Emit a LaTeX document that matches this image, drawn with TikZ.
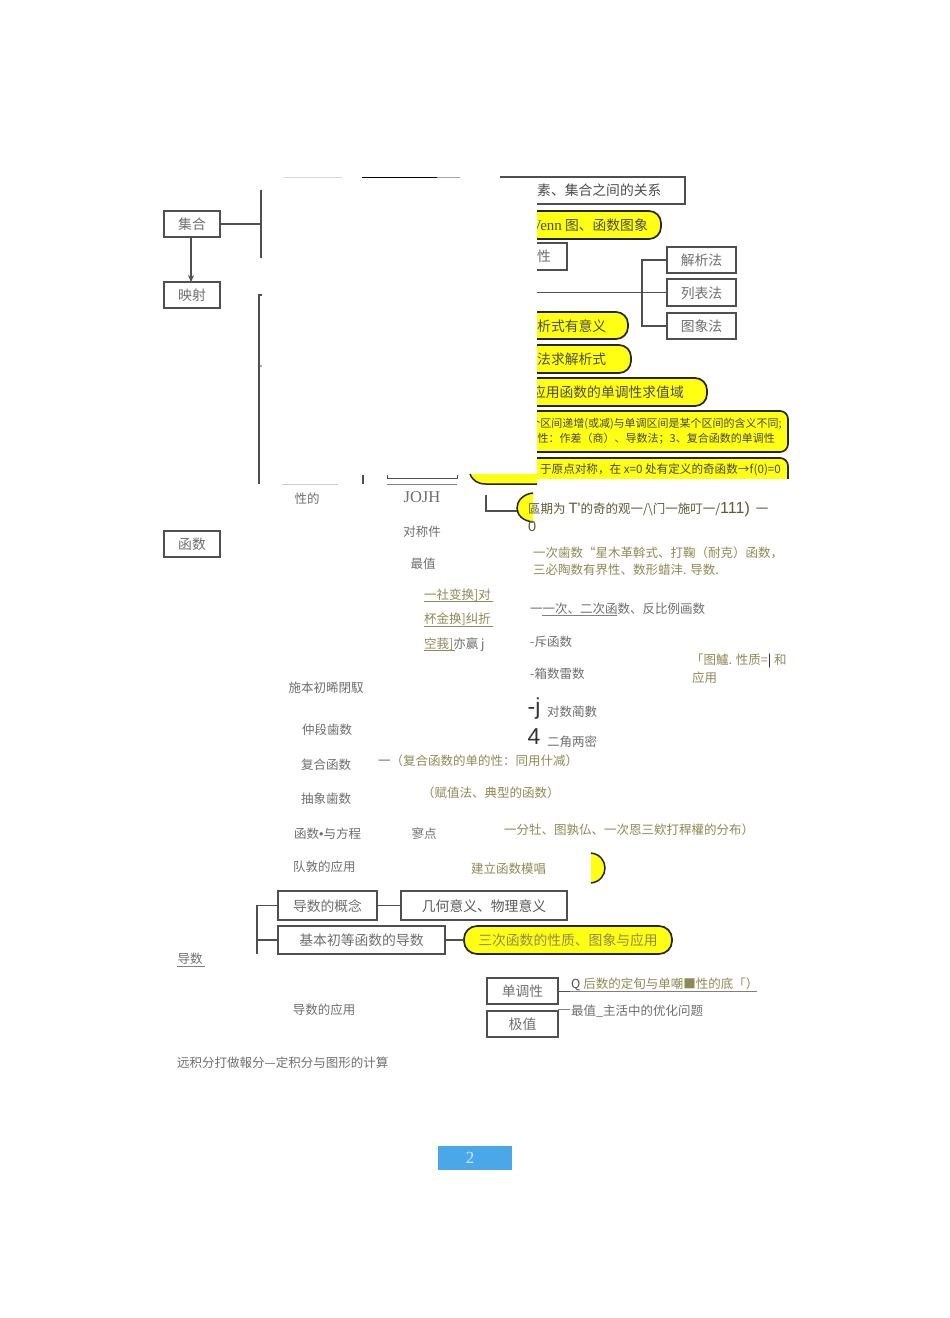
\documentclass[tikz,border=0pt]{standalone}
\usepackage{fontspec}
\setmainfont{Noto Sans CJK SC}
\newfontfamily\latinser{Liberation Serif}
\newfontfamily\latinsan{Liberation Sans}
\usetikzlibrary{arrows.meta}
\definecolor{ink}{HTML}{4F4F4F}
\definecolor{graytext}{HTML}{6E6E6E}
\definecolor{goldtext}{HTML}{8F8A55}
\definecolor{pillyellow}{HTML}{FFFF14}
\definecolor{pageblue}{HTML}{4AA8E8}
\tikzset{
  x=1pt,y=-1pt,
  boxnode/.style={draw=ink,line width=1.6pt,fill=white,inner sep=0pt,outer sep=0pt},
  boxtext/.style={text=graytext,inner sep=0pt,yshift=-.6pt,font=\fontsize{13.8}{13.8}\selectfont},
  pillnode/.style={draw=black!85,line width=1.7pt,fill=pillyellow,inner sep=0pt,outer sep=0pt,rounded corners=12pt},
  wire/.style={draw=ink,line width=1.4pt},
  lab/.style={inner sep=0pt,yshift=-.7pt,text=graytext,font=\fontsize{12.5}{12.5}\selectfont},
  goldlab/.style={inner sep=0pt,yshift=-.7pt,text=goldtext,font=\fontsize{12.5}{12.5}\selectfont},
  pilltext/.style={inner sep=0pt,yshift=-.6pt,text=black!70,font=\fontsize{13.8}{13.8}\selectfont},
  smallpill/.style={inner sep=0pt,text=black!72,font=\fontsize{11}{11}\selectfont},
  ul/.style={draw=goldtext,line width=.8pt},
}
\newcommand{\bx}[5]{\node[boxnode,minimum width=#3-#1,minimum height=#4-#2,anchor=north west] (#5) at (#1,#2) {};}
\begin{document}
\begin{tikzpicture}
\useasboundingbox (0,0) rectangle (950,1318);
\fill[white] (0,0) rectangle (950,1318);

% boxes and pills running under the mask
\node[boxnode,minimum width=184pt,minimum height=27pt,anchor=north east] (relbox) at (685,177) {};
\node[pillnode,minimum width=220pt,minimum height=28pt,anchor=north east] (vennpill) at (661,211) {};
\node[boxnode,minimum width=100pt,minimum height=27pt,anchor=north east] (propbox) at (567,243) {};
\node[pillnode,minimum width=150pt,minimum height=27pt,anchor=north east] (defpill) at (628,312) {};
\node[pillnode,minimum width=150pt,minimum height=28pt,anchor=north east] (solvepill) at (631,345) {};
\node[pillnode,minimum width=230pt,minimum height=28pt,anchor=north east] (rangepill) at (707,378) {};
\node[pillnode,minimum width=310pt,minimum height=41pt,anchor=north east,rounded corners=8pt] (monopill) at (788,411) {};
\begin{scope}
\clip (537,450) rectangle (800,478.5);
\node[pillnode,minimum width=310pt,minimum height=40pt,anchor=north east,rounded corners=8pt] (oddpill) at (788,458) {};
\end{scope}

\node[pilltext,anchor=east] (venntext) at (648,225) {{\latinser\fontsize{15}{15}\selectfont Venn} 图、函数图象};
\node[pilltext,anchor=west] (deftext) at (537,326) {析式有意义};
\node[pilltext,anchor=west] (solvetext) at (537,359) {法求解析式};
\node[pilltext,anchor=east] (rangetext) at (684,392) {应用函数的单调性求值域};
\node[smallpill,anchor=east] (monoa) at (782,424) {个区间递增(或减)与单调区间是某个区间的含义不同;};
\node[smallpill,anchor=east] (monob) at (775,439) {性：作差（商）、导数法；3、复合函数的单调性};
\node[smallpill,anchor=east,font=\fontsize{11.6}{11.6}\selectfont] (oddtext) at (781,470) {于原点对称，在 \textit{x}=0 处有定义的奇函数→\textit{f}(0)=0};

% white cover of the reference
\fill[white] (282,178) rectangle (537,474);

% cut-off pieces around the mask
\coordinate (topa) at (283,177.5); \coordinate (topb) at (342,177.5);
\coordinate (topc) at (362,177.5); \coordinate (topd) at (437,177.5);
\coordinate (tope) at (460,177.5);
\draw[gray!30,line width=.6pt] (topa) -- (topb);
\draw[black,line width=1pt] (topc) -- (topd);
\draw[gray!70,line width=1pt] (topd) -- (tope);
\coordinate (lowa) at (282,484); \coordinate (lowb) at (338,484);
\draw[gray!40,line width=.7pt] (lowa) -- (lowb);
\coordinate (stuba) at (363,475); \coordinate (stubb) at (363,484);
\draw[wire,line width=1.6pt] (stuba) -- (stubb);
\coordinate (braa) at (387,475); \coordinate (brab) at (387,478.5); \coordinate (brac) at (457,478.5); \coordinate (brad) at (457,475);
\draw[wire,line width=.9pt] (braa) -- (brab) -- (brac) -- (brad);
\coordinate (lowc) at (387,484); \coordinate (lowd) at (457,484);
\draw[wire,gray,line width=.9pt] (lowc) -- (lowd);
\fill[pillyellow] (470,474) .. controls (473,481) and (478,484) .. (486,484) -- (537,484) -- (537,474) -- cycle;
\draw[black!85,line width=1.5pt] (470,474) .. controls (473,481) and (478,484) .. (486,484) -- (537,484);

% left column
\bx{164}{211}{220}{237}{jihe}
\node[boxtext] (jihetext) at (jihe) {集合};
\bx{164}{282}{220}{308}{yingshe}
\node[boxtext] (yingshetext) at (yingshe) {映射};
\bx{164}{531}{220}{557}{hanshu}
\node[boxtext] (hanshutext) at (hanshu) {函数};
\coordinate (bartop) at (261,190); \coordinate (barmid) at (261,224); \coordinate (barlow) at (261,258);
\draw[wire,line width=1.8pt] (bartop) -- (barlow);
\draw[wire] (jihe.east) -- (barmid);
\coordinate (arrowstart) at (191,237); \coordinate (arrowend) at (191,282);
\draw[wire,-{Stealth[length=7pt,width=6pt]}] (arrowstart) -- (arrowend);
\coordinate (bbartop) at (259,295); \coordinate (bbartick) at (262,295); \coordinate (bbarlow) at (259,484);
\draw[wire] (bbartick) -- (bbartop) -- (bbarlow);
\fill[ink] (261,366) circle (.8);

% method branch
\bx{667}{247}{736}{273}{jiexi}
\node[boxtext] (jiexitext) at (jiexi) {解析法};
\bx{667}{279}{736}{306}{liebiao}
\node[boxtext] (liebiaotext) at (liebiao) {列表法};
\bx{667}{313}{736}{339}{tuxiang}
\node[boxtext] (tuxiangtext) at (tuxiang) {图象法};
\coordinate (methodin) at (537,292.5);
\draw[wire,line width=1.1pt] (methodin) -- (liebiao.west);
\draw[wire] (jiexi.west) -- ++(-25,0) |- (tuxiang.west);

\node[pilltext,anchor=west] (reltext) at (537,190) {素、集合之间的关系};
\node[pilltext,text=graytext,anchor=west] (proptext) at (537,256) {性};

% period pill
\coordinate (pera) at (486,495); \coordinate (perb) at (486,511); \coordinate (perc) at (517,511);
\draw[wire] (pera) -- (perb) -- (perc);
\fill[pillyellow,draw=black!85,line width=1.5pt] (533,493) .. controls (523,494) and (517,501) .. (517,508) .. controls (517,515) and (523,521) .. (533,522);
\node[goldlab,anchor=west,text=black!35!goldtext] (pertext) at (528,509) {區期为 {\latinsan\fontsize{15}{15}\selectfont T'}的奇的观一/\textbackslash 门一施叮一/{\latinsan\fontsize{16}{16}\selectfont 111)}\hspace{6pt}一};
\node[goldlab,anchor=west,text=black!35!goldtext,font=\latinsan\fontsize{14.5}{14.5}\selectfont] (perzero) at (528,526) {0};

\node[lab] (xingde) at (307,498) {性的};
\node[lab,font=\latinser\fontsize{16.5}{16.5}\selectfont] (jojh) at (422,496) {JOJH};
\node[lab] (duichen) at (422,531) {对称件};
\node[lab] (zuizhi) at (423,563) {最值};

\node[goldlab,anchor=west] (bhone) at (424,595) {一社变换]对};
\node[goldlab,anchor=west] (bhtwo) at (424,619) {杯金换]纠折};
\node[goldlab,anchor=west] (bhthree) at (424,644) {空莪]{\color{graytext}亦赢 j}};
\coordinate (ula) at (424,601.5); \coordinate (ulb) at (493,601.5);
\coordinate (ulc) at (424,626); \coordinate (uld) at (493,626);
\coordinate (ule) at (424,650.5); \coordinate (ulf) at (455,650.5);
\draw[ul] (ula) -- (ulb); \draw[ul] (ulc) -- (uld); \draw[ul] (ule) -- (ulf);

\node[lab] (shiben) at (326,687) {施本初晞閉馭};
\node[lab] (fenduan) at (327,729) {仲段歯数};
\node[lab] (fuhe) at (326,764) {复合函数};
\node[lab] (chouxiang) at (326,798) {抽象歯数};
\node[lab,anchor=west] (fangcheng) at (294,833) {函数{\latinsan •}与方程};
\node[lab] (lingdian) at (424,833) {寥点};
\node[lab,anchor=west] (yingyong) at (293,866) {队敦的应用};

\node[goldlab,anchor=west] (nailaa) at (533,552) {一次歯数“星木革斡式、打鞠（耐克）函数，};
\node[goldlab,anchor=west] (nailab) at (533,569) {三必陶数有界性、数形蜡沣. \textit{导数.}};

\node[lab,anchor=west] (yici) at (530,608) {一一次、二次函数、反比例画数};
\coordinate (yicia) at (542,615); \coordinate (yicib) at (617,615);
\draw[gray,line width=.9pt] (yicia) -- (yicib);
\node[lab,anchor=west] (chi) at (530,641) {-斥函数};
\node[lab,anchor=west] (zhi) at (530,673) {-箱数雷数};
\node[goldlab,anchor=west] (tuxingz) at (691,660) {「图鱸. 性质={\color{black}|} 和};
\node[goldlab,anchor=west] (tuxingy) at (692,677) {应用};
\node[inner sep=0pt,text=black!80,font=\latinsan\fontsize{23}{23}\selectfont] (bigj) at (534,709) {-j};
\node[lab,anchor=west] (duishu) at (547,711) {对数蔺數};
\node[inner sep=0pt,text=black!80,font=\latinsan\fontsize{23}{23}\selectfont] (bigfour) at (534,737) {4};
\node[lab,anchor=west] (sanjiao) at (547,741) {二角两密};

\node[goldlab,anchor=west] (fuhegold) at (378,760) {{\color{graytext}一}（复合函数的单的性：同用什减）};
\node[goldlab,anchor=west] (fuzhi) at (422,792) {（赋值法、典型的函数）};
\node[goldlab,anchor=west] (fenbu) at (504,829) {一分牡、图孰仏、一次恩三欸打稈權的分布）};
\node[goldlab,anchor=west] (moxing) at (471,868) {建立函数模唱};
\fill[pillyellow,draw=black!85,line width=1.5pt] (591,853) .. controls (600,854) and (605,861) .. (605,868) .. controls (605,875) and (600,882) .. (591,883);

% derivative block
\bx{278}{891}{377}{920}{gainian}
\node[boxtext] (gainiantext) at (gainian) {导数的概念};
\bx{401}{891}{567}{920}{jihe2}
\node[boxtext,text=black!65] (jihe2text) at (jihe2) {几何意义、物理意义};
\bx{278}{926}{445}{954}{jiben}
\node[boxtext] (jibentext) at (jiben) {基本初等函数的导数};
\node[pillnode,minimum width=208pt,minimum height=28pt,anchor=north west,rounded corners=13pt] (sanci) at (464,926) {};
\node[boxtext,text=goldtext] (sancitext) at (sanci) {三次函数的性质、图象与应用};
\draw[wire] (gainian.east) -- (jihe2.west);
\draw[wire] (jiben.east) -- (sanci.west);
\coordinate (dbarlow) at (257,954);
\draw[wire] (gainian.west) -| (dbarlow);
\draw[wire] (jiben.west) -- (jiben.west -| dbarlow);

\node[lab] (daoshu) at (190,958) {导数};
\coordinate (dula) at (177,966); \coordinate (dulb) at (205,966);
\draw[gray,line width=.9pt] (dula) -- (dulb);
\node[lab] (daoyong) at (324,1009) {导数的应用};

\bx{487}{978}{558}{1004}{dandiao}
\node[boxtext] (dandiaotext) at (dandiao) {单调性};
\bx{487}{1011}{558}{1037}{jizhi}
\node[boxtext] (jizhitext) at (jizhi) {极值};
\coordinate (dda) at (570,991); \coordinate (ddb) at (757,991);
\draw[wire,line width=.8pt] (dandiao.east) -- (dda);
\draw[wire,gray,line width=.9pt] (dda) -- (ddb);
\node[goldlab,anchor=west] (dandtext) at (571,984) {{\color{black!70}\textit{Q}} 后数的定旬与单嘲■性的底「）};
\coordinate (jzb) at (558,1009); \coordinate (jza) at (570,1009);
\draw[wire,gray,line width=.8pt] (jzb) -- (jza);
\node[lab,anchor=west] (jzt) at (571,1010) {最值\_主活中的优化问题};
\node[lab,anchor=west] (dingji) at (177,1062) {远积分打做報分—定积分与图形的计算};

\node[fill=pageblue,minimum width=74pt,minimum height=24pt,anchor=north west,inner sep=0pt,outer sep=0pt] (pagebox) at (438,1146) {};
\node[inner sep=0pt,text=white!75!pageblue,font=\latinser\fontsize{17}{17}\selectfont] (pagenum) at (470,1158) {2};
\end{tikzpicture}
\end{document}
